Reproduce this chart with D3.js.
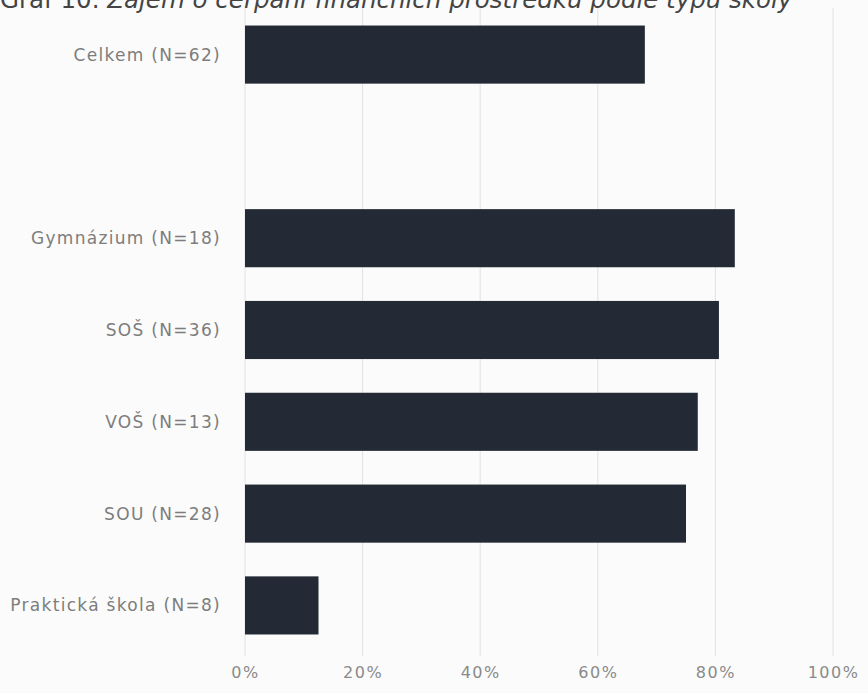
<!DOCTYPE html>
<html>
<head>
<meta charset="utf-8">
<script src="https://cdn.jsdelivr.net/npm/d3@7"></script>
<style>
  body { margin: 0; background: #fbfbfb; }
  svg { display: block; font-family: "DejaVu Sans", sans-serif; }
</style>
</head>
<body>
<div id="chart"></div>
<script>
"use strict";

// category labels, top to bottom ("" is the empty gap row)
var categories = ['Celkem (N=62)', '', 'Gymnázium (N=18)', 'SOŠ (N=36)', 'VOŠ (N=13)', 'SOU (N=28)', 'Praktická škola (N=8)'];
var values = [0.68, null, 0.833, 0.806, 0.77, 0.75, 0.125];
var tickValues = [0, 0.2, 0.4, 0.6, 0.8, 1];

var width = 868, height = 693;
var margin = {top: 9, right: 35, bottom: 42, left: 245};

var svg = d3.select('#chart').append('svg')
    .attr('width', width)
    .attr('height', height);

svg.append('rect')
    .attr('width', width)
    .attr('height', height)
    .attr('fill', '#fbfbfb');

var x = d3.scaleLinear()
    .domain([0, 1])
    .range([margin.left, margin.left + 588]);

var y = d3.scaleBand()
    .domain(categories.map(function (d, i) { return i; }))
    .range([margin.top, height - margin.bottom])
    .paddingInner(0.367)
    .paddingOuter(0.18);

// gridlines
svg.append('g')
    .selectAll('line')
    .data(tickValues)
    .enter().append('line')
        .attr('x1', function (d) { return x(d); })
        .attr('x2', function (d) { return x(d); })
        .attr('y1', 8)
        .attr('y2', 656)
        .attr('stroke', '#e2e2e2')
        .attr('stroke-width', 1);

// bars
svg.append('g')
    .selectAll('rect')
    .data(values.map(function (v, i) { return {v: v, i: i}; })
        .filter(function (d) { return d.v !== null; }))
    .enter().append('rect')
        .attr('x', x(0))
        .attr('y', function (d) { return y(d.i); })
        .attr('width', function (d) { return x(d.v) - x(0); })
        .attr('height', y.bandwidth())
        .attr('fill', '#232a35');

// category labels
svg.append('g')
    .selectAll('text')
    .data(categories)
    .enter().append('text')
        .attr('x', 221)
        .attr('y', function (d, i) { return y(i) + y.bandwidth() / 2; })
        .attr('dy', '0.35em')
        .attr('text-anchor', 'end')
        .attr('font-size', 17)
        .attr('letter-spacing', 1.3)
        .attr('fill', '#7d7d7d')
        .text(function (d) { return d; });

// x axis tick labels
var xAxis = d3.axisBottom(x)
    .tickValues(tickValues)
    .tickSize(0)
    .tickPadding(0)
    .tickFormat(d3.format('.0%'));

var axisG = svg.append('g')
    .attr('transform', 'translate(0,667)')
    .call(xAxis);
axisG.select('.domain').remove();
axisG.selectAll('text')
    .attr('font-family', '"DejaVu Sans", sans-serif')
    .attr('font-size', 16)
    .attr('letter-spacing', 1.5)
    .attr('fill', '#8a8a8a');

// clipped title at the very top
var title = svg.append('text')
    .attr('x', 0)
    .attr('y', 8)
    .attr('font-size', 24.5)
    .attr('fill', '#444');
title.append('tspan').text('Graf 10. ');
title.append('tspan')
    .attr('font-style', 'italic')
    .text('Zájem o čerpání finančních prostředků podle typu školy');
</script>
</body>
</html>
